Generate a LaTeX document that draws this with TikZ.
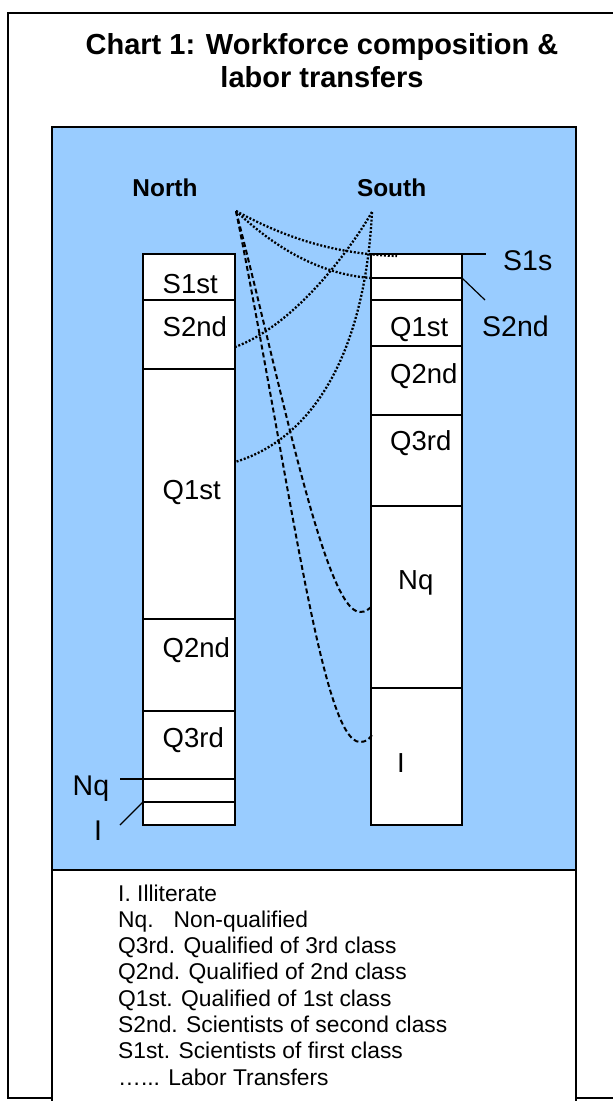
\documentclass[tikz,border=0pt]{standalone}
\usepackage{fontspec}
\setmainfont{Liberation Sans}
\usetikzlibrary{calc}
\definecolor{paleblue}{HTML}{99CCFF}
\begin{document}
\begin{tikzpicture}[x=1pt,y=-1pt,
  seg/.style={draw=black, line width=1.3pt, fill=white, inner sep=0pt, outer sep=0pt},
  lseg/.style={seg, minimum width=92pt},
  rseg/.style={seg, minimum width=91pt},
  lbl/.style={font=\fontsize{27.5}{33}\selectfont, inner sep=0pt, anchor=base west},
  olbl/.style={font=\fontsize{28.5}{34}\selectfont, inner sep=0pt, anchor=base west},
  head/.style={font=\bfseries\fontsize{24.4}{29}\selectfont, inner sep=0pt, anchor=base},
  titl/.style={font=\bfseries\fontsize{29}{35}\selectfont, inner sep=0pt, anchor=base},
  leg/.style={font=\fontsize{22.8}{26}\selectfont, inner sep=0pt, anchor=base west},
  pointer/.style={draw=black, line width=1.2pt},
  dotlink/.style={draw=black, line width=2.3pt, dash pattern=on 2pt off 1.8pt},
  dashlink/.style={draw=black, line width=2pt, dash pattern=on 5pt off 3pt}
]
\useasboundingbox (0,0) rectangle (613,1101);
\fill[white] (0,0) rectangle (613,1101);
% outer frame
\draw[line width=2pt] (8,13) rectangle (640,1098);
% title
\node[titl] (t1) at (322,54) {Chart 1: Workforce composition \&};
\node[titl] (t2) at (322,87.5) {labor transfers};
% blue panel and legend box
\draw[line width=1.5pt, fill=paleblue] (52,127) rectangle (576,870);
\draw[line width=1.5pt, fill=white] (52,870) rectangle (576,1120);
% headings
\node[head] (north) at (165,196.7) {North};
\node[head] (south) at (391.6,196.7) {South};
% left column
\node[lseg, minimum height=46pt]  (L1) at (189,277) {};
\node[lseg, minimum height=69pt]  (L2) at (189,334.5) {};
\node[lseg, minimum height=250pt] (L3) at (189,494) {};
\node[lseg, minimum height=92pt]  (L4) at (189,665) {};
\node[lseg, minimum height=68pt]  (L5) at (189,745) {};
\node[lseg, minimum height=23pt]  (L6) at (189,790.5) {};
\node[lseg, minimum height=23pt]  (L7) at (189,813.5) {};
% right column
\node[rseg, minimum height=24pt]  (R1) at (416.5,266) {};
\node[rseg, minimum height=22pt]  (R2) at (416.5,289) {};
\node[rseg, minimum height=46pt]  (R3) at (416.5,323) {};
\node[rseg, minimum height=69pt]  (R4) at (416.5,380.5) {};
\node[rseg, minimum height=91pt]  (R5) at (416.5,460.5) {};
\node[rseg, minimum height=182pt] (R6) at (416.5,597) {};
\node[rseg, minimum height=137pt] (R7) at (416.5,756.5) {};
% left labels
\node[lbl] (lS1) at (162.5,293) {S1st};
\node[lbl] (lS2) at (162.5,336) {S2nd};
\node[lbl] (lQ1) at (162.5,499) {Q1st};
\node[lbl] (lQ2) at (162.5,657) {Q2nd};
\node[lbl] (lQ3) at (162.5,747) {Q3rd};
% right labels
\node[lbl] (rQ1) at (390,336) {Q1st};
\node[lbl] (rQ2) at (390,383) {Q2nd};
\node[lbl] (rQ3) at (390,450) {Q3rd};
\node[lbl] (rNq) at (398,589) {Nq};
\node[lbl, anchor=base] (rI) at (401,772) {I};
% outside labels and pointers
\node[olbl] (oS1) at (503,270) {S1s};
\node[olbl] (oS2) at (482,336) {S2nd};
\node[olbl] (oNq) at (72.5,795) {Nq};
\node[olbl, anchor=base] (oI) at (98,840) {I};
\coordinate (pS1) at (486,254);
\coordinate (pS2) at (485,300);
\coordinate (pNq) at (120,779);
\coordinate (pI) at (120,825);
\draw[pointer] (R1.north east) -- (pS1);
\draw[pointer] (R2.north east) -- (pS2);
\draw[pointer] (L6.north west) -- (pNq);
\draw[pointer] (L7.north west) -- (pI);
% transfer curves
\coordinate (N) at (236,211);
\coordinate (S) at (372,212);
\coordinate (eA) at (397,256);
\coordinate (eC) at (235,347);
\coordinate (eD) at (235,462);
\coordinate (eE) at (372,606);
\coordinate (eF) at (372,735);
\draw[dotlink] (N) .. controls (280,235) and (330,254) .. (eA);
\draw[dotlink] (N) .. controls (270,243) and (315,274) .. (R2.north west);
\draw[dotlink] (S) .. controls (350,250) and (295,325) .. (eC);
\draw[dotlink] (S) .. controls (365,350) and (315,438) .. (eD);
\draw[dashlink] (N) .. controls (280,380) and (325,612) .. (360,612) .. controls (366,612) and (369,609) .. (eE);
\draw[dashlink] (N) .. controls (290,480) and (322,742) .. (360,742) .. controls (366,742) and (369,739) .. (eF);
% legend
\node[leg] (g1) at (118,901) {I. Illiterate};
\node[leg] (g2) at (118,927.3) {Nq.\hspace{20pt}Non-qualified};
\node[leg] (g3) at (118,953.6) {Q3rd. Qualified of 3rd class};
\node[leg] (g4) at (118,979.9) {Q2nd. Qualified of 2nd class};
\node[leg] (g5) at (118,1006.2) {Q1st. Qualified of 1st class};
\node[leg] (g6) at (118,1032.5) {S2nd. Scientists of second class};
\node[leg] (g7) at (118,1058.8) {S1st. Scientists of first class};
\node[leg] (g8) at (118,1085.1) {…... Labor Transfers};
\end{tikzpicture}
\end{document}
